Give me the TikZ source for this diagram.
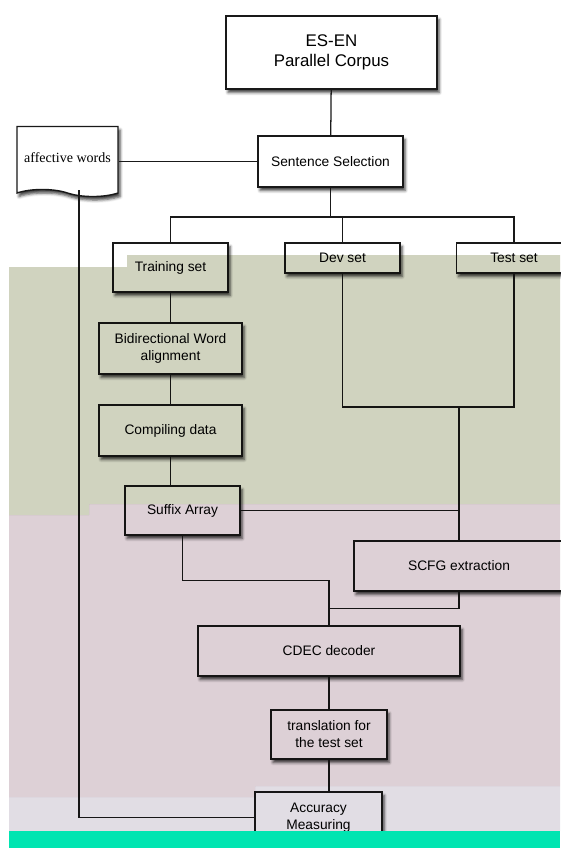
\documentclass[tikz,border=0pt]{standalone}
\usepackage{fontspec}
\setmainfont{Liberation Sans}
\newfontfamily\affectfont{Liberation Serif}
\usetikzlibrary{shapes.symbols,shadows.blur}

\definecolor{bandgreen}{HTML}{D0D3BF}
\definecolor{bandpink}{HTML}{DDD0D6}
\definecolor{bandlilac}{HTML}{E1DDE4}
\definecolor{bandteal}{HTML}{00E5B1}

\tikzset{
  stage/.style={draw=black!90, line width=1pt, fill=white, align=center, inner sep=2pt,
    font=\fontsize{9.8}{12}\selectfont, text=black,
    blur shadow={shadow xshift=1.5pt, shadow yshift=-2.5pt, shadow blur radius=2pt, shadow opacity=75}},
  link/.style={draw=black!90, line width=0.9pt},
}

\begin{document}
\begin{tikzpicture}[x=0.025cm, y=-0.025cm]
    \useasboundingbox (0,0) rectangle (560,848);

    % Corpus and selection
    \node[stage, minimum width=5.275cm, minimum height=1.825cm, font=\fontsize{12}{14.2}\selectfont] (corpus) at (331.5,52.5) {ES-EN\\Parallel Corpus};
    \node[stage, minimum width=3.625cm, minimum height=1.275cm] (select) at (330.5,161.5) {Sentence Selection};
    \node[stage, tape, tape bend top=none, tape bend bottom=out and in, minimum width=2.525cm, minimum height=1.75cm, font=\affectfont\fontsize{10}{12}\selectfont] (affect) at (67.5,158) {affective words};

    % Data split
    \node[stage, minimum width=2.875cm, minimum height=1.225cm] (train) at (170.5,267.5) {Training set};
    \node[stage, minimum width=2.875cm, minimum height=0.75cm] (dev) at (342.5,258) {Dev set};
    \node[stage, minimum width=2.875cm, minimum height=0.75cm] (test) at (514,258) {Test set};

    % Training side
    \node[stage, minimum width=3.575cm, minimum height=1.275cm] (align) at (170.5,348.5) {Bidirectional Word\\alignment};
    \node[stage, minimum width=3.575cm, minimum height=1.275cm] (compile) at (170.5,430.5) {Compiling data};
    \node[stage, minimum width=2.875cm, minimum height=1.225cm] (suffix) at (182.5,510.5) {Suffix Array};

    % Decoding
    \node[stage, minimum width=5.25cm, minimum height=1.25cm] (scfg) at (459,566) {SCFG extraction};
    \node[stage, minimum width=6.55cm, minimum height=1.25cm] (cdec) at (329,651) {CDEC decoder};
    \node[stage, minimum width=2.9cm, minimum height=1.225cm] (transl) at (329,734.5) {translation for\\the test set};
    \node[stage, minimum width=3.175cm, minimum height=1.275cm] (accuracy) at (318.5,817.5) {Accuracy\\Measuring};

    % Connectors
    \coordinate (splitbar) at (0,217);
    \coordinate (devtest) at (0,407);
    \coordinate (siderail) at (79,0);
    \draw[link] (corpus) -- (select);
    \draw[link] (select.west) -- (select.west -| affect.east);
    \draw[link] (select.south) -- (select.south |- splitbar);
    \draw[link] (train.north) |- (test.north |- splitbar) -- (test.north);
    \draw[link] (dev.north) -- (dev.north |- splitbar);
    \draw[link] (train) -- (align);
    \draw[link] (align) -- (compile);
    \draw[link] (compile.south) -- (compile.south |- suffix.north);
    \draw[link] (dev.south) |- (test.south |- devtest) -- (test.south);
    \draw[link] (scfg.north |- devtest) -- (scfg.north);
    \draw[link] (suffix.east) -| (scfg.north);
    \draw[link] (suffix.south) -- ++(0,45) -| (cdec.north);
    \draw[link] (scfg.south) -- ++(0,17) -| (cdec.north);
    \draw[link] (cdec) -- (transl);
    \draw[link] (transl.south) -- (transl.south |- accuracy.north);
    \draw[link] (affect.south -| siderail) |- (accuracy.west);

    % Colour bands
    \begin{scope}[blend mode=multiply]
        \fill[bandgreen] (9,267) -- (127,267) -- (127,255) -- (560,255) -- (560,504) -- (89,504) -- (89,515) -- (9,515) -- cycle;
        \fill[bandpink] (9,515) -- (89,515) -- (89,504) -- (560,504) -- (560,786) -- (255,786) -- (255,797) -- (9,797) -- cycle;
        \fill[bandlilac] (9,797) -- (255,797) -- (255,786) -- (560,786) -- (560,831) -- (9,831) -- cycle;
    \end{scope}
    \fill[bandteal] (9,831) rectangle (560,848);
\end{tikzpicture}
\end{document}
